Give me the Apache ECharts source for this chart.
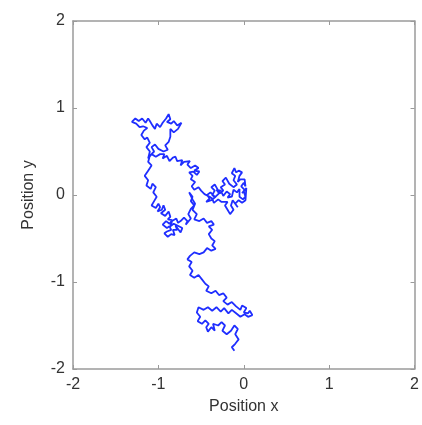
<!DOCTYPE html>
<html>
<head>
<meta charset="utf-8">
<script src="https://cdn.jsdelivr.net/npm/echarts@6/dist/echarts.min.js"></script>
<style>
html, body { margin: 0; padding: 0; background: #fff; }
#walk { width: 422px; height: 425px; }
</style>
</head>
<body>
<div id="walk"></div>
<script>
// ticks shown on both axes
var tickValues = [-2, -1, 0, 1, 2];

// random walk path as [x, y]
// right-hand clump near the origin
var clumpRight = [
  [-0.02,0.02],[0.01,0.06],[-0.03,0.1],[0.0,0.14],[0.02,0.1],[0.01,0.18],[-0.04,0.18],[-0.07,0.15],[-0.05,0.22],[-0.02,0.26],
  [-0.06,0.28],[-0.09,0.26],[-0.11,0.31],[-0.14,0.25],[-0.1,0.22],[-0.12,0.17],[-0.08,0.12],[-0.12,0.09],[-0.17,0.13],[-0.21,0.2],
  [-0.25,0.16],[-0.22,0.12],[-0.27,0.09],[-0.24,0.05],[-0.28,0.02],[-0.31,0.07],[-0.34,0.12],[-0.38,0.09],[-0.34,0.05],[-0.37,0.0],
  [-0.33,-0.03],[-0.39,0.03],[-0.43,0.0],[-0.4,-0.04],[-0.44,-0.08],[-0.38,-0.06],[-0.33,-0.02],[-0.29,0.02],[-0.32,0.06],[-0.27,0.05],
  [-0.24,-0.01],[-0.2,0.04],[-0.16,0.01],[-0.19,-0.03],[-0.14,-0.02],[-0.12,0.06],[-0.08,0.03],[-0.05,0.07],[-0.05,-0.02],[-0.01,-0.05],
  [0.02,-0.02],[0.0,0.04],[0.03,0.08],[0.02,-0.06],[-0.02,-0.09],[-0.06,-0.06],[-0.1,-0.1],[-0.07,-0.14],[-0.13,-0.06],[-0.15,-0.12],
  [-0.12,-0.17],[-0.16,-0.22],[-0.19,-0.17],[-0.22,-0.12],[-0.19,-0.08],[-0.26,-0.08],[-0.3,-0.05],[-0.35,-0.09],[-0.37,-0.04],[-0.4,-0.02],
  [-0.46,0.01],[-0.5,0.05]
];
// middle stretch heading up and left
var midUp = [
  [-0.53,0.09],[-0.58,0.06],[-0.61,0.1],[-0.57,0.15],[-0.62,0.18],[-0.6,0.22],[-0.64,0.26],[-0.59,0.27],[-0.55,0.23],[-0.52,0.27],
  [-0.58,0.28],[-0.53,0.31],[-0.57,0.34],[-0.62,0.31],[-0.66,0.35],[-0.63,0.39],[-0.7,0.38],[-0.74,0.34],[-0.72,0.4],[-0.78,0.39],
  [-0.8,0.44],[-0.83,0.43],[-0.87,0.39],[-0.9,0.45],[-0.95,0.42],[-0.93,0.47],[-0.98,0.47],[-1.03,0.44],[-1.08,0.47],[-1.12,0.42]
];
// top-left loop
var topLeft = [
  [-1.1,0.5],[-1.14,0.55],[-1.1,0.6],[-1.13,0.66],[-1.16,0.64],[-1.2,0.69],[-1.17,0.74],[-1.13,0.77],[-1.18,0.79],[-1.22,0.78],
  [-1.26,0.82],[-1.31,0.84],[-1.27,0.88],[-1.23,0.85],[-1.19,0.88],[-1.15,0.83],[-1.12,0.88],[-1.1,0.85],[-1.07,0.8],[-1.04,0.76],
  [-1.02,0.82],[-0.98,0.78],[-0.95,0.83],[-0.91,0.88],[-0.88,0.93],[-0.86,0.87],[-0.9,0.84],[-0.85,0.82],[-0.82,0.85],[-0.78,0.8],
  [-0.73,0.83],[-0.77,0.76],[-0.82,0.72],[-0.86,0.76],[-0.86,0.67],[-0.88,0.61],[-0.92,0.57],[-0.89,0.52],[-0.94,0.5],[-1.0,0.53],
  [-1.04,0.58],[-1.08,0.55],[-1.05,0.5]
];
// left column and the dense clump below it
var leftDown = [
  [-1.1,0.45],[-1.12,0.38],[-1.08,0.34],[-1.12,0.28],[-1.16,0.22],[-1.12,0.17],[-1.14,0.11],[-1.09,0.07],[-1.07,0.13],[-1.03,0.09],
  [-1.06,0.03],[-1.02,-0.02],[-1.05,-0.07],[-1.08,-0.12],[-1.03,-0.15],[-1.0,-0.1],[-0.98,-0.14],[-1.01,-0.19],[-0.96,-0.17],[-0.94,-0.12],
  [-0.92,-0.17],[-0.97,-0.21],[-0.92,-0.24],[-0.88,-0.19],[-0.86,-0.25],[-0.89,-0.28],[-0.84,-0.29],[-0.87,-0.33],[-0.91,-0.3],[-0.95,-0.34],
  [-0.9,-0.38],[-0.87,-0.36],[-0.85,-0.4],[-0.9,-0.42],[-0.93,-0.44],[-0.89,-0.48],[-0.85,-0.45],[-0.81,-0.46],[-0.83,-0.4],[-0.78,-0.4],
  [-0.8,-0.35],[-0.74,-0.43],[-0.72,-0.38],[-0.76,-0.36],[-0.82,-0.33],[-0.86,-0.36],[-0.84,-0.3],[-0.79,-0.27],[-0.77,-0.32],[-0.74,-0.3],
  [-0.7,-0.26],[-0.66,-0.3],[-0.68,-0.34],[-0.62,-0.27],[-0.65,-0.22],[-0.62,-0.16],[-0.58,-0.12],[-0.62,-0.07],[-0.6,-0.02],[-0.64,0.03]
];
// long run down to the bottom tip
var runDown = [
  [-0.6,-0.05],[-0.57,-0.1],[-0.6,-0.17],[-0.55,-0.22],[-0.58,-0.28],[-0.52,-0.3],[-0.47,-0.27],[-0.43,-0.32],[-0.38,-0.3],[-0.35,-0.34],
  [-0.41,-0.36],[-0.37,-0.4],[-0.41,-0.45],[-0.38,-0.5],[-0.34,-0.53],[-0.37,-0.58],[-0.33,-0.62],[-0.38,-0.64],[-0.43,-0.61],[-0.47,-0.66],
  [-0.52,-0.68],[-0.58,-0.66],[-0.63,-0.7],[-0.66,-0.74],[-0.61,-0.77],[-0.64,-0.82],[-0.6,-0.87],[-0.63,-0.92],[-0.58,-0.95],[-0.53,-0.92],
  [-0.49,-0.97],[-0.45,-1.02],[-0.41,-1.05],[-0.44,-1.1],[-0.38,-1.13],[-0.33,-1.1],[-0.29,-1.15],[-0.24,-1.13],[-0.2,-1.18],[-0.24,-1.22],
  [-0.19,-1.26],[-0.14,-1.23],[-0.09,-1.28],[-0.04,-1.32],[-0.02,-1.27],[0.03,-1.3],[0.0,-1.35],[0.05,-1.36],[0.07,-1.33],[0.1,-1.38],
  [0.05,-1.4],[0.01,-1.37],[-0.04,-1.4],[-0.09,-1.36],[-0.14,-1.32],[-0.18,-1.36],[-0.23,-1.3],[-0.27,-1.34],[-0.32,-1.29],[-0.37,-1.33],
  [-0.42,-1.29],[-0.47,-1.32],[-0.53,-1.29],[-0.55,-1.35],[-0.51,-1.4],[-0.54,-1.45],[-0.49,-1.48],[-0.45,-1.44],[-0.41,-1.48],[-0.44,-1.52],
  [-0.46,-1.53],[-0.42,-1.57],[-0.38,-1.52],[-0.34,-1.56],[-0.36,-1.48],[-0.3,-1.5],[-0.26,-1.46],[-0.22,-1.5],[-0.25,-1.56],[-0.2,-1.6],
  [-0.15,-1.56],[-0.11,-1.5],[-0.07,-1.54],[-0.1,-1.6],[-0.06,-1.66],[-0.1,-1.71],[-0.14,-1.75],[-0.11,-1.79]
];

var pts = [].concat(clumpRight, midUp, topLeft, leftDown, runDown);

var chart = echarts.init(document.getElementById('walk'));

var labelFont = {
    color: '#333',
    fontSize: 16,
    fontFamily: 'Liberation Sans, Arial, sans-serif'
};
var axisGray = '#9a9a9a';

function mainAxis(name, gap) {
    return {
        type: 'value',
        min: tickValues[0],
        max: tickValues[tickValues.length - 1],
        interval: 1,
        name: name,
        nameLocation: 'middle',
        nameGap: gap,
        nameTextStyle: labelFont,
        axisLine: { show: true, onZero: false, lineStyle: { color: axisGray, width: 1.5 } },
        axisTick: { show: true, inside: true, length: 4, lineStyle: { color: axisGray } },
        axisLabel: Object.assign({ margin: 8 }, labelFont),
        splitLine: { show: false }
    };
}

function boxAxis(pos) {
    return {
        type: 'value',
        position: pos,
        min: -2,
        max: 2,
        interval: 1,
        axisLine: { show: true, onZero: false, lineStyle: { color: axisGray, width: 1.5 } },
        axisTick: { show: true, inside: true, length: 4, lineStyle: { color: axisGray } },
        axisLabel: { show: false },
        splitLine: { show: false }
    };
}

var option = {
    animation: false,
    grid: { left: 73, right: 3, top: 21, bottom: 56 },
    xAxis: [mainAxis('Position x', 30), boxAxis('top')],
    yAxis: [mainAxis('Position y', 36), boxAxis('right')],
    series: [{
        type: 'line',
        data: pts,
        showSymbol: false,
        smooth: false,
        lineStyle: { color: '#1f2eff', width: 1.8 }
    }]
};
chart.setOption(option);
</script>
</body>
</html>
